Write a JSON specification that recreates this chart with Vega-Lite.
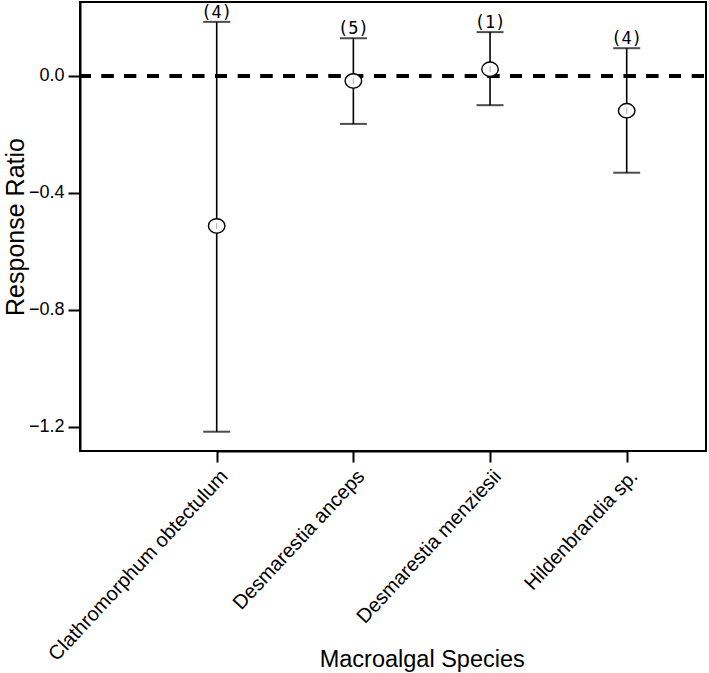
{
  "$schema": "https://vega.github.io/schema/vega-lite/v6.json",
  "width": 626,
  "height": 449,
  "autosize": {"type": "none"},
  "padding": {"left": 80, "top": 2, "right": 3, "bottom": 222},
  "background": "white",
  "config": {
    "view": {"stroke": "black", "strokeWidth": 2},
    "font": "Liberation Sans"
  },
  "data": {
    "values": [
      {"species": "Clathromorphum obtectulum", "mean": -0.513, "lower": -1.217, "upper": 0.185, "n": "(4)"},
      {"species": "Desmarestia anceps", "mean": -0.017, "lower": -0.164, "upper": 0.129, "n": "(5)"},
      {"species": "Desmarestia menziesii", "mean": 0.023, "lower": -0.1, "upper": 0.15, "n": "(1)"},
      {"species": "Hildenbrandia sp.", "mean": -0.119, "lower": -0.331, "upper": 0.095, "n": "(4)"}
    ]
  },
  "encoding": {
    "x": {
      "field": "species",
      "type": "nominal",
      "sort": null,
      "scale": {"type": "point", "range": [136.7, 546.7], "padding": 0},
      "axis": {
        "title": "Macroalgal Species",
        "titleFontSize": 23.5,
        "titleFontWeight": "normal",
        "titleColor": "black",
        "titleY": 208,
        "titleBaseline": "middle",
        "labelAngle": -47,
        "labelAlign": "right",
        "labelBaseline": "top",
        "labelFontSize": 20,
        "labelColor": "black",
        "labelPadding": 4,
        "labelLimit": 400,
        "tickSize": 11,
        "tickWidth": 2,
        "tickColor": "black",
        "domainColor": "black",
        "domainWidth": 2,
        "grid": false
      }
    }
  },
  "layer": [
    {
      "mark": {"type": "rule", "strokeWidth": 3.8, "strokeDash": [11.7, 11], "strokeDashOffset": 1, "color": "black"},
      "encoding": {"y": {"datum": 0}, "x": {"value": 0}, "x2": {"value": 626}}
    },
    {
      "mark": {"type": "rule", "strokeWidth": 1.6, "color": "black"},
      "encoding": {
        "y": {
          "field": "lower",
          "type": "quantitative",
          "scale": {"domain": [-1.283, 0.253], "nice": false, "zero": false},
          "axis": {
            "title": "Response Ratio",
            "titleFontSize": 25,
            "titleFontWeight": "normal",
            "titleColor": "black",
            "titleX": -65,
            "titleBaseline": "middle",
            "values": [0, -0.4, -0.8, -1.2],
            "format": ".1f",
            "labelFontSize": 18,
            "labelColor": "black",
            "labelPadding": 4,
            "tickSize": 12,
            "tickWidth": 2,
            "tickColor": "black",
            "domainColor": "black",
            "domainWidth": 2,
            "grid": false
          }
        },
        "y2": {"field": "upper"}
      }
    },
    {
      "mark": {"type": "tick", "size": 27, "thickness": 2, "color": "black", "orient": "horizontal"},
      "encoding": {"y": {"field": "lower", "type": "quantitative"}}
    },
    {
      "mark": {"type": "tick", "size": 27, "thickness": 2, "color": "black", "orient": "horizontal"},
      "encoding": {"y": {"field": "upper", "type": "quantitative"}}
    },
    {
      "mark": {"type": "point", "shape": "M-1,0A1,0.87,0,1,1,1,0A1,0.87,0,1,1,-1,0Z", "size": 272, "filled": false, "fill": "white", "fillOpacity": 1, "stroke": "black", "strokeWidth": 1.4, "opacity": 1},
      "encoding": {"y": {"field": "mean", "type": "quantitative"}}
    },
    {
      "mark": {"type": "tick", "orient": "vertical", "size": 6, "thickness": 1, "color": "#888888"},
      "encoding": {"y": {"field": "mean", "type": "quantitative"}}
    },
    {
      "mark": {"type": "text", "font": "DejaVu Sans Mono", "fontSize": 17, "baseline": "alphabetic", "dy": -4, "color": "black"},
      "encoding": {"y": {"field": "upper", "type": "quantitative"}, "text": {"field": "n"}}
    }
  ]
}
